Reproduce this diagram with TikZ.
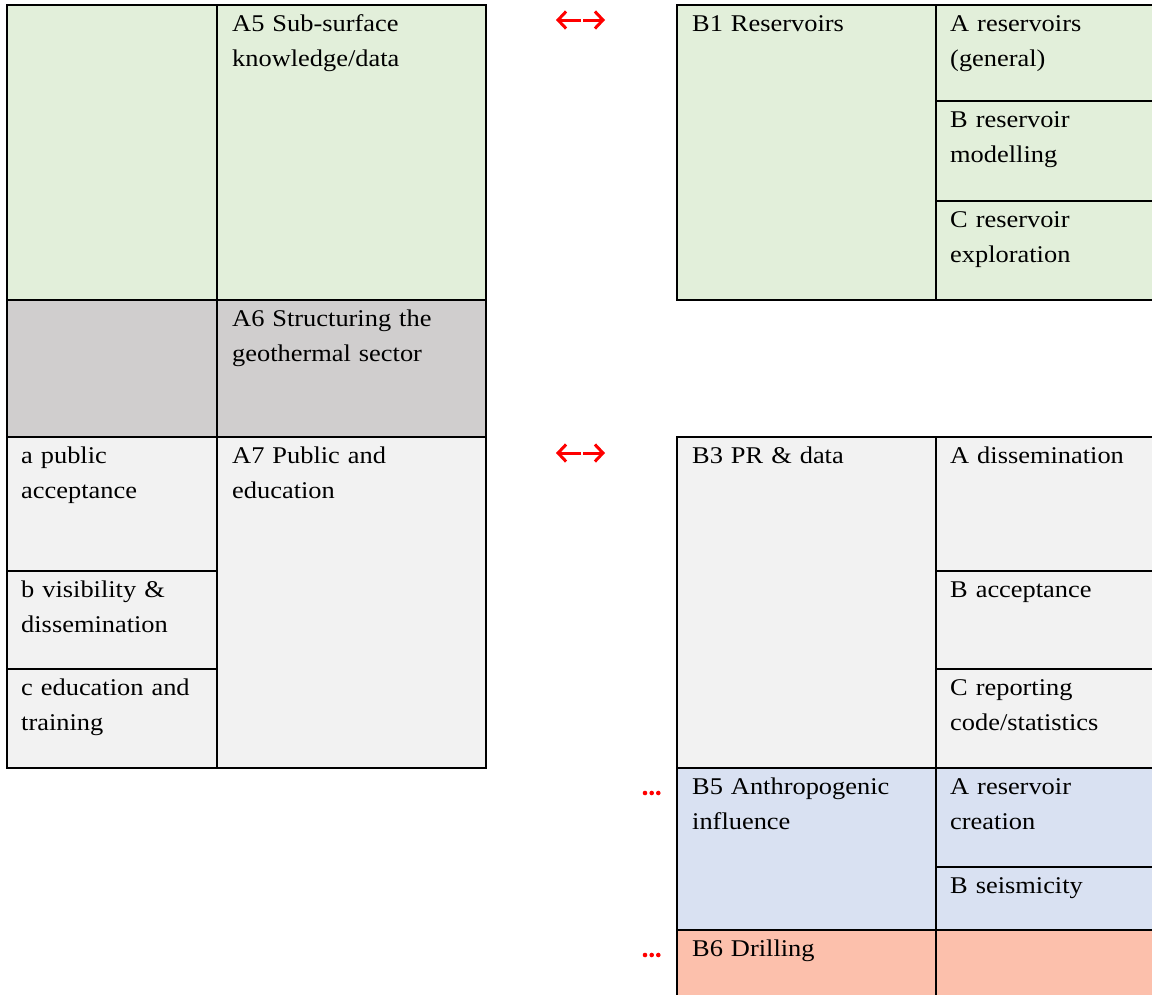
\documentclass[tikz,border=0pt]{standalone}
\usepackage{fontspec}
\setmainfont{Liberation Serif}[FakeStretch=1.1]
\usetikzlibrary{arrows.meta}
\definecolor{cellgreen}{RGB}{226,239,218}
\definecolor{cellgray}{RGB}{208,206,206}
\definecolor{celllight}{RGB}{242,242,242}
\definecolor{cellblue}{RGB}{217,225,242}
\definecolor{cellsalmon}{RGB}{252,192,172}
\tikzset{
  tableline/.style={line width=2.2pt, line cap=rect},
  celltext/.style={anchor=north west, inner sep=0pt, yshift=-1.5pt, text width=250pt, align=left,
    font=\fontsize{24}{35}\selectfont},
  link/.style={red, line width=3pt, -{Straight Barb[length=8pt,width=17pt]}},
}

\begin{document}
\begin{tikzpicture}[x=1pt,y=-1pt]
        \useasboundingbox (0,0) rectangle (1152,994);
        \clip (0,0) rectangle (1152,994);

        % left table
        \fill[cellgreen] (7,5) rectangle (486,300);
        \fill[cellgray] (7,300) rectangle (486,437);
        \fill[celllight] (7,437) rectangle (486,768);
        \draw[tableline] (7,5) rectangle (486,768);
        \draw[tableline] (217,5) -- (217,768);
        \draw[tableline] (7,300) -- (486,300);
        \draw[tableline] (7,437) -- (486,437);
        \draw[tableline] (7,571) -- (217,571);
        \draw[tableline] (7,669) -- (217,669);

        \node[celltext] (a5) at (232,5) {\strut A5 Sub-surface\\knowledge/data};
        \node[celltext] (a6) at (232,300) {\strut A6 Structuring the\\geothermal sector};
        \node[celltext] (a7) at (232,437) {\strut A7 Public and\\education};
        \node[celltext] (a7a) at (21,437) {\strut a public\\acceptance};
        \node[celltext] (a7b) at (21,571) {\strut b visibility \&\\dissemination};
        \node[celltext] (a7c) at (21,669) {\strut c education and\\training};

        % right table, reservoirs
        \fill[cellgreen] (677,5) rectangle (1160,300);
        \draw[tableline] (677,5) rectangle (1160,300);
        \draw[tableline] (936,5) -- (936,300);
        \draw[tableline] (936,101) -- (1160,101);
        \draw[tableline] (936,201) -- (1160,201);

        \node[celltext] (b1) at (692,5) {\strut B1 Reservoirs};
        \node[celltext] (b1a) at (950,5) {\strut A reservoirs\\(general)};
        \node[celltext] (b1b) at (950,101) {\strut B reservoir\\modelling};
        \node[celltext] (b1c) at (950,201) {\strut C reservoir\\exploration};

        % right table, PR, influence, drilling
        \fill[celllight] (677,437) rectangle (1160,768);
        \fill[cellblue] (677,768) rectangle (1160,930);
        \fill[cellsalmon] (677,930) rectangle (1160,1000);
        \draw[tableline] (677,1000) -- (677,437) -- (1160,437);
        \draw[tableline] (936,437) -- (936,1000);
        \draw[tableline] (936,571) -- (1160,571);
        \draw[tableline] (936,669) -- (1160,669);
        \draw[tableline] (677,768) -- (1160,768);
        \draw[tableline] (936,867) -- (1160,867);
        \draw[tableline] (677,930) -- (1160,930);

        \node[celltext] (b3) at (692,437) {\strut B3 PR \& data};
        \node[celltext] (b3a) at (950,437) {\strut A dissemination};
        \node[celltext] (b3b) at (950,571) {\strut B acceptance};
        \node[celltext] (b3c) at (950,669) {\strut C reporting\\code/statistics};
        \node[celltext] (b5) at (692,768) {\strut B5 Anthropogenic\\influence};
        \node[celltext] (b5a) at (950,768) {\strut A reservoir\\creation};
        \node[celltext] (b5b) at (950,867) {\strut B seismicity};
        \node[celltext] (b6) at (692,930) {\strut B6 Drilling};

        % red links between the tables
        \coordinate (linkres) at (582,20);
        \coordinate (linkpr) at (582,453);
        \draw[link] ([xshift=-1pt]linkres) -- ++(-25,0);
        \draw[link] ([xshift=1pt]linkres) -- ++(22,0);
        \draw[link] ([xshift=-1pt]linkpr) -- ++(-25,0);
        \draw[link] ([xshift=1pt]linkpr) -- ++(22,0);

        \fill[red] (645,793) circle (2.3);
        \fill[red] (651.7,793) circle (2.3);
        \fill[red] (658.3,793) circle (2.3);
        \fill[red] (645,955) circle (2.3);
        \fill[red] (651.7,955) circle (2.3);
        \fill[red] (658.3,955) circle (2.3);
\end{tikzpicture}
\end{document}
